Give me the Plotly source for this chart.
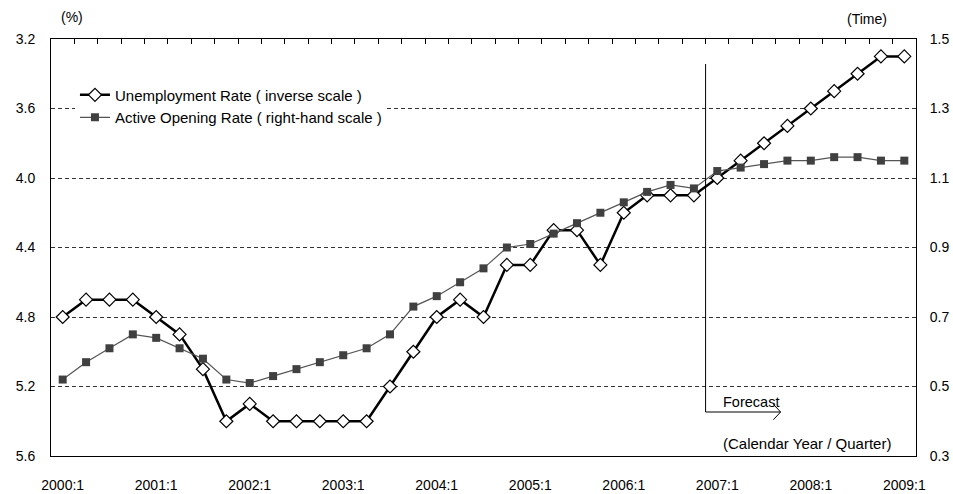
import plotly.graph_objects as go

quarters = [
    "2000:1", "2000:2", "2000:3", "2000:4",
    "2001:1", "2001:2", "2001:3", "2001:4",
    "2002:1", "2002:2", "2002:3", "2002:4",
    "2003:1", "2003:2", "2003:3", "2003:4",
    "2004:1", "2004:2", "2004:3", "2004:4",
    "2005:1", "2005:2", "2005:3", "2005:4",
    "2006:1", "2006:2", "2006:3", "2006:4",
    "2007:1", "2007:2", "2007:3", "2007:4",
    "2008:1", "2008:2", "2008:3", "2008:4",
    "2009:1",
]
unemployment = [
    4.8, 4.7, 4.7, 4.7,
    4.8, 4.9, 5.1, 5.4,
    5.3, 5.4, 5.4, 5.4,
    5.4, 5.4, 5.2, 5.0,
    4.8, 4.7, 4.8, 4.5,
    4.5, 4.3, 4.3, 4.5,
    4.2, 4.1, 4.1, 4.1,
    4.0, 3.9, 3.8, 3.7,
    3.6, 3.5, 3.4, 3.3,
    3.3,
]
opening = [
    0.52, 0.57, 0.61, 0.65,
    0.64, 0.61, 0.58, 0.52,
    0.51, 0.53, 0.55, 0.57,
    0.59, 0.61, 0.65, 0.73,
    0.76, 0.80, 0.84, 0.90,
    0.91, 0.94, 0.97, 1.00,
    1.03, 1.06, 1.08, 1.07,
    1.12, 1.13, 1.14, 1.15,
    1.15, 1.16, 1.16, 1.15,
    1.15,
]
year_labels = ["2000:1", "2001:1", "2002:1", "2003:1", "2004:1",
               "2005:1", "2006:1", "2007:1", "2008:1", "2009:1"]
left_ticks = [3.2, 3.6, 4.0, 4.4, 4.8, 5.2, 5.6]
right_ticks = [0.3, 0.5, 0.7, 0.9, 1.1, 1.3, 1.5]
forecast_start = 27.5  # boundary between 2006:4 and 2007:1

FONT = "Liberation Sans, Arial, sans-serif"

fig = go.Figure()
fig.add_trace(go.Scatter(
    x=quarters, y=unemployment, name="Unemployment Rate ( inverse scale )",
    mode="lines+markers",
    line=dict(color="black", width=2.5),
    marker=dict(symbol="diamond", size=10, color="white",
                line=dict(color="black", width=1.2)),
    xaxis="x", yaxis="y",
))
fig.add_trace(go.Scatter(
    x=quarters, y=opening, name="Active Opening Rate ( right-hand scale )",
    mode="lines+markers",
    line=dict(color="#555555", width=1.2),
    marker=dict(symbol="square", size=8, color="#404040",
                line=dict(width=0)),
    xaxis="x", yaxis="y2",
))
# invisible trace to carry the top tick axis
fig.add_trace(go.Scatter(
    x=quarters, y=[None] * len(quarters), xaxis="x2", yaxis="y",
    showlegend=False, hoverinfo="skip", mode="lines",
))

shapes = [
    dict(type="line", xref="x", yref="paper", x0=forecast_start, x1=forecast_start,
         y0=0.1055, y1=0.940, line=dict(color="black", width=1)),
    dict(type="line", xref="x", yref="paper", x0=forecast_start, x1=30.71,
         y0=0.1055, y1=0.1055, line=dict(color="black", width=1)),
    dict(type="line", xref="x", yref="paper", x0=30.40, x1=30.71,
         y0=0.124, y1=0.1055, line=dict(color="black", width=1)),
    dict(type="line", xref="x", yref="paper", x0=30.40, x1=30.71,
         y0=0.087, y1=0.1055, line=dict(color="black", width=1)),
]

annotations = [
    dict(text="(%)", xref="paper", yref="paper", x=0.0237, y=1.053,
         xanchor="center", yanchor="middle",
         showarrow=False, font=dict(size=14, color="black", family=FONT)),
    dict(text="(Time)", xref="paper", yref="paper", x=0.9428, y=1.048,
         xanchor="center", yanchor="middle",
         showarrow=False, font=dict(size=14, color="black", family=FONT)),
    dict(text="Forecast", xref="paper", yref="paper", x=0.7740, y=0.1295,
         xanchor="left", yanchor="middle", showarrow=False,
         font=dict(size=14.5, color="black", family=FONT)),
    dict(text="(Calendar Year / Quarter)", xref="paper", yref="paper",
         x=0.7740, y=0.031, xanchor="left", yanchor="middle", showarrow=False,
         font=dict(size=15, color="black", family=FONT)),
]

fig.update_layout(
    width=953, height=494,
    margin=dict(l=51, r=37, t=39, b=38, autoexpand=False),
    paper_bgcolor="white", plot_bgcolor="white",
    font=dict(family=FONT, size=14, color="black"),
    showlegend=True,
    legend=dict(x=0.0277, y=0.905, xanchor="left", yanchor="top",
                bgcolor="white", borderwidth=0,
                font=dict(size=15, family=FONT, color="black"),
                tracegroupgap=0),
    xaxis=dict(
        type="category", categoryorder="array", categoryarray=quarters,
        range=[-0.5, len(quarters) - 0.5], automargin=False,
        tickmode="array", tickvals=year_labels, ticktext=year_labels,
        ticks="", ticklabelstandoff=16,
        showgrid=False, zeroline=False,
        showline=True, linecolor="black", linewidth=1, mirror=False,
        tickfont=dict(size=14, family=FONT, color="black"),
    ),
    xaxis2=dict(
        type="category", categoryorder="array", categoryarray=quarters,
        range=[-0.5, len(quarters) - 0.5], automargin=False,
        overlaying="x", side="top", anchor="y",
        tickson="boundaries", ticks="inside", ticklen=5, tickcolor="black",
        showticklabels=False, showgrid=False, zeroline=False,
        showline=True, linecolor="black", linewidth=1,
    ),
    yaxis=dict(
        range=[5.6, 3.2], tickmode="array", tickvals=left_ticks,
        ticktext=[f"{v:.1f}" for v in left_ticks], automargin=False,
        ticks="", ticklabelstandoff=12,
        showgrid=True, gridcolor="#333333", gridwidth=1, griddash="4px,3px",
        zeroline=False, showline=True, linecolor="black", linewidth=1,
        tickfont=dict(size=14, family=FONT, color="black"),
    ),
    yaxis2=dict(
        range=[0.3, 1.5], tickmode="array", tickvals=right_ticks,
        ticktext=[f"{v:.1f}" for v in right_ticks], automargin=False,
        overlaying="y", side="right", anchor="x",
        ticks="", ticklabelstandoff=10,
        showgrid=False, zeroline=False,
        showline=True, linecolor="black", linewidth=1,
        tickfont=dict(size=14, family=FONT, color="black"),
    ),
    shapes=shapes,
    annotations=annotations,
)

fig.write_html("out.html")
